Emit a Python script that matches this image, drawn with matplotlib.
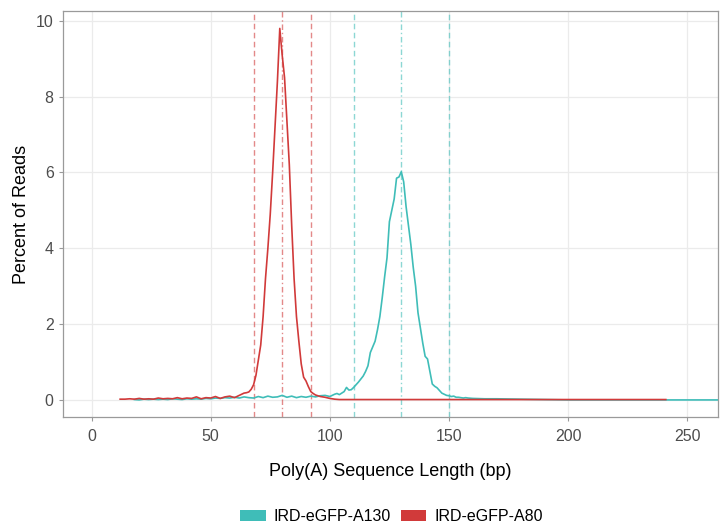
import matplotlib.pyplot as plt
from matplotlib.patches import Patch

plt.rcParams['font.family'] = ['Liberation Sans', 'DejaVu Sans']

# IRD-eGFP-A80 (red)
a80_len = [12, 14, 16, 18, 20, 22, 24, 26, 28, 30, 32, 34, 36, 38, 40, 42, 44, 46, 48, 50,
           52, 54, 56, 58, 60, 62, 64, 65, 66, 67, 68, 69, 70, 71, 72, 73, 74, 75, 76, 77,
           78, 79, 80, 81, 82, 83, 84, 85, 86, 87, 88, 89, 90, 91, 92, 93, 94, 96, 98, 100,
           102, 104, 110, 120, 241]
a80_pct = [0.02, 0.02, 0.03, 0.02, 0.04, 0.02, 0.03, 0.02, 0.05, 0.03, 0.04, 0.03, 0.06, 0.03, 0.05, 0.04, 0.08, 0.03, 0.06, 0.05,
           0.09, 0.04, 0.08, 0.10, 0.06, 0.12, 0.18, 0.19, 0.21, 0.28, 0.40, 0.65, 1.05, 1.45, 2.2, 3.2, 4.0, 4.9, 6.0, 7.2,
           8.4, 9.8, 9.1, 8.5, 7.35, 6.2, 4.6, 3.2, 2.2, 1.55, 0.95, 0.6, 0.5, 0.35, 0.22, 0.17, 0.13, 0.09, 0.07, 0.04,
           0.02, 0.01, 0.01, 0.01, 0.01]

# IRD-eGFP-A130 (cyan)
a130_len = [18, 20, 22, 24, 26, 28, 30, 32, 34, 36, 38, 40, 42, 44, 46, 48, 50, 52, 54, 56,
            58, 60, 62, 64, 66, 68, 70, 72, 74, 76, 78, 80, 82, 84, 86, 88, 90, 92, 94, 96,
            98, 100, 101, 102, 103, 104, 105, 106, 107, 108, 109, 110, 111, 112, 113, 114, 115, 116, 117, 118,
            119, 120, 121, 122, 123, 124, 125, 126, 127, 128, 129, 130, 131, 132, 133, 134, 135, 136, 137, 138,
            139, 140, 141, 142, 143, 144, 145, 146, 147, 148, 149, 150, 151, 152, 153, 154, 155, 156, 157, 158,
            160, 165, 170, 180, 190, 200, 265]
a130_pct = [0.01, 0.0, 0.02, 0.01, 0.02, 0.01, 0.02, 0.01, 0.03, 0.02, 0.01, 0.03, 0.02, 0.03, 0.02, 0.04, 0.03, 0.05, 0.04, 0.06,
            0.05, 0.07, 0.05, 0.08, 0.06, 0.05, 0.09, 0.06, 0.10, 0.07, 0.08, 0.12, 0.07, 0.10, 0.06, 0.09, 0.07, 0.10, 0.08, 0.11,
            0.12, 0.09, 0.12, 0.15, 0.17, 0.14, 0.18, 0.22, 0.33, 0.26, 0.27, 0.33, 0.40, 0.47, 0.55, 0.63, 0.75, 0.90, 1.25, 1.40,
            1.55, 1.85, 2.2, 2.7, 3.25, 3.75, 4.7, 5.0, 5.3, 5.85, 5.88, 6.02, 5.75, 5.1, 4.6, 4.1, 3.5, 3.0, 2.3, 1.9,
            1.5, 1.15, 1.08, 0.75, 0.42, 0.36, 0.32, 0.25, 0.18, 0.15, 0.12, 0.11, 0.09, 0.10, 0.07, 0.07, 0.06, 0.05, 0.06, 0.05,
            0.04, 0.03, 0.03, 0.02, 0.01, 0.0, 0.0]

# reference lines (target length and +/- window)
a80_lines = [68, 80, 92]
a130_lines = [110, 130, 150]
line_dashes = [(4, 2.5), (4, 2, 1, 2), (4, 2.5)]

x_ticks = [0, 50, 100, 150, 200, 250]
y_ticks = [0, 2, 4, 6, 8, 10]

red = '#D13A3A'
cyan = '#3FBDB8'

fig = plt.figure(figsize=(7.25, 5.23), dpi=100)
ax = fig.add_axes([0.0865, 0.2027, 0.9035, 0.7763])

ax.plot(a130_len, a130_pct, color=cyan, lw=1.2, zorder=3)
ax.plot(a80_len, a80_pct, color=red, lw=1.2, zorder=4)

for xv, d in zip(a80_lines, line_dashes):
    ax.axvline(xv, color=red, alpha=0.6, lw=1.0, ls=(0, d), zorder=2)
for xv, d in zip(a130_lines, line_dashes):
    ax.axvline(xv, color=cyan, alpha=0.6, lw=1.0, ls=(0, d), zorder=2)

ax.set_xlim(-12.1, 262.8)
ax.set_ylim(-0.45, 10.26)
ax.set_xticks(x_ticks)
ax.set_yticks(y_ticks)
ax.grid(True, color='#EBEBEB', lw=0.9, zorder=0)
ax.set_axisbelow(True)
for s in ax.spines.values():
    s.set_color('#9A9A9A')
    s.set_linewidth(0.9)
ax.tick_params(colors='#9A9A9A', labelcolor='#4D4D4D', labelsize=11.5, length=3, width=0.8)
ax.tick_params(axis='x', pad=6)

ax.set_xlabel('Poly(A) Sequence Length (bp)', fontsize=13, labelpad=13)
ax.set_ylabel('Percent of Reads', fontsize=13, labelpad=4)

handles = [Patch(facecolor=cyan, label='IRD-eGFP-A130'),
           Patch(facecolor=red, label='IRD-eGFP-A80')]
fig.legend(handles=handles, loc='lower center', bbox_to_anchor=(0.54, -0.03), ncol=2,
           frameon=False, fontsize=11.5, handlelength=1.6, handleheight=0.7,
           columnspacing=0.6, handletextpad=0.5)

fig.savefig('out.png', dpi=100)
